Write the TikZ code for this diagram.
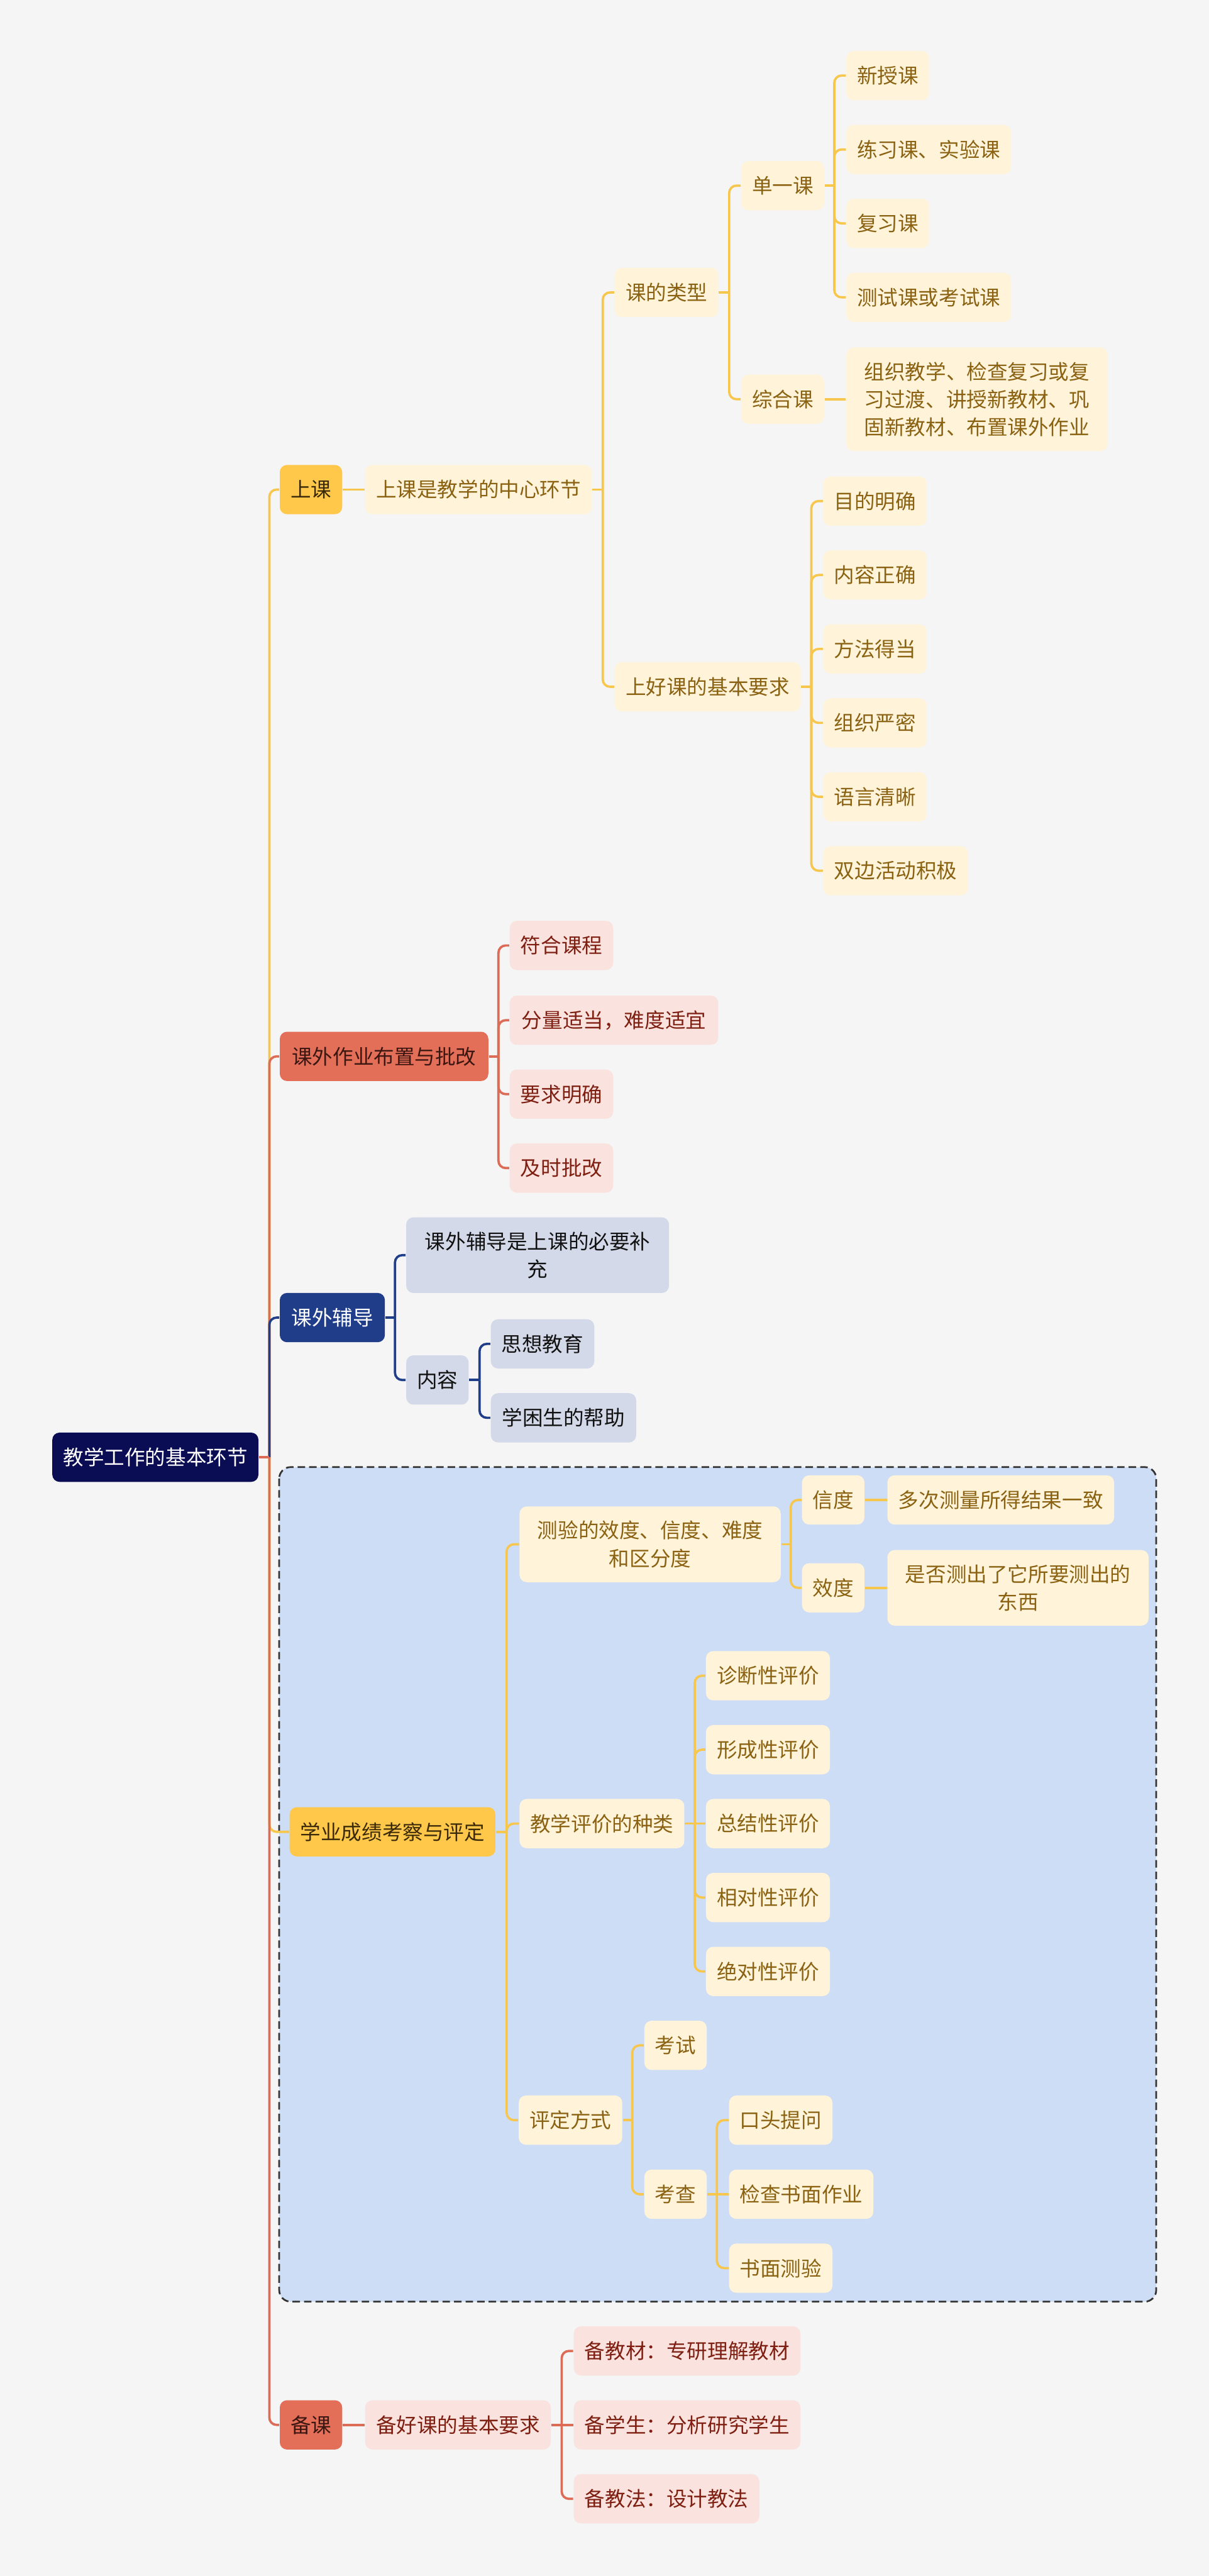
\documentclass[tikz,border=0pt]{standalone}
\usepackage{fontspec}
\setmainfont{Noto Sans CJK SC}
\definecolor{cBg}{HTML}{F5F5F5}
\definecolor{cRoot}{HTML}{0B0D54}
\definecolor{cYel}{HTML}{FFC84A}
\definecolor{cYelTxt}{HTML}{3A2A08}
\definecolor{cYelSub}{HTML}{FFF4DA}
\definecolor{cYelSubTxt}{HTML}{8A6212}
\definecolor{cYelLine}{HTML}{F7C64C}
\definecolor{cRed}{HTML}{E36F59}
\definecolor{cRedTxt}{HTML}{3C1711}
\definecolor{cRedSub}{HTML}{FAE3DE}
\definecolor{cRedSubTxt}{HTML}{7F1F12}
\definecolor{cRedLine}{HTML}{DD6C57}
\definecolor{cBlue}{HTML}{1F3D88}
\definecolor{cBlueSub}{HTML}{D3D9E9}
\definecolor{cBlueSubTxt}{HTML}{111111}
\definecolor{cBox}{HTML}{CEDDF6}
\definecolor{cBoxLine}{HTML}{333333}
\begin{document}
\begin{tikzpicture}[
    x=0.02cm, y=-0.02cm,
    base/.style={rounded corners=2.5pt,inner xsep=3.7pt,inner ysep=5pt,minimum height=0.6cm,
        align=center,anchor=west,font=\fontsize{7.1pt}{9.64pt}\selectfont},
    wd/.style={minimum width=#1*0.02cm},
    rootbox/.style={base,fill=cRoot,text=white},
    ymain/.style={base,fill=cYel,text=cYelTxt},
    ysub/.style={base,fill=cYelSub,text=cYelSubTxt},
    rmain/.style={base,fill=cRed,text=cRedTxt},
    rsub/.style={base,fill=cRedSub,text=cRedSubTxt},
    bmain/.style={base,fill=cBlue,text=white},
    bsub/.style={base,fill=cBlueSub,text=cBlueSubTxt},
    ylink/.style={draw=cYelLine,line width=0.8pt,rounded corners=2.5pt},
    rlink/.style={draw=cRedLine,line width=0.8pt,rounded corners=2.5pt},
    blink/.style={draw=cBlue,line width=0.8pt,rounded corners=2.5pt}
]
\fill[cBg] (0,0) rectangle (736,1568);
\useasboundingbox (0,0) rectangle (736,1568);
\draw[cBoxLine,fill=cBox,dash pattern=on 2.6pt off 1.4pt,line width=0.6pt,rounded corners=4pt]
    (170,893) rectangle (704,1401);

\node[rootbox,wd=125.5] (root) at (31.5,887) {教学工作的基本环节};

\node[ymain,wd=38] (shangke) at (170,298) {上课};
\node[ysub,wd=138] (zhongxin) at (222,298) {上课是教学的中心环节};
\node[ysub,wd=63] (leixing) at (374,178) {课的类型};
\node[ysub,wd=113] (yaoqiu) at (374,418) {上好课的基本要求};
\node[ysub,wd=50] (danyi) at (451,113) {单一课};
\node[ysub,wd=50] (zonghe) at (451,243) {综合课};
\node[ysub,wd=50] (xinshou) at (515,46) {新授课};
\node[ysub,wd=100] (lianxi) at (515,91) {练习课、实验课};
\node[ysub,wd=50] (fuxi) at (515,136) {复习课};
\node[ysub,wd=100] (ceshi) at (515,181) {测试课或考试课};
\node[ysub,wd=159] (zuzhijx) at (515,243) {组织教学、检查复习或复\\习过渡、讲授新教材、巩\\固新教材、布置课外作业};
\node[ysub,wd=62] (mudi) at (501,305) {目的明确};
\node[ysub,wd=62] (neirong) at (501,350) {内容正确};
\node[ysub,wd=62] (fangfa) at (501,395) {方法得当};
\node[ysub,wd=62] (zuzhi) at (501,440) {组织严密};
\node[ysub,wd=62] (yuyan) at (501,485) {语言清晰};
\node[ysub,wd=88] (shuangbian) at (501,530) {双边活动积极};

\node[rmain,wd=127] (zuoye) at (170,643) {课外作业布置与批改};
\node[rsub,wd=63] (fuhe) at (310,575.5) {符合课程};
\node[rsub,wd=127] (fenliang) at (310,621) {分量适当，难度适宜};
\node[rsub,wd=63] (mingque) at (310,666) {要求明确};
\node[rsub,wd=63] (jishi) at (310,711) {及时批改};

\node[bmain,wd=64] (fudao) at (170,802) {课外辅导};
\node[bsub,wd=160] (buchong) at (247,764) {课外辅导是上课的必要补\\充};
\node[bsub,wd=38] (neir) at (247,840) {内容};
\node[bsub,wd=63] (sixiang) at (298.5,818) {思想教育};
\node[bsub,wd=88.5] (xuekun) at (298.5,863) {学困生的帮助};

\node[ymain,wd=125] (xueye) at (176,1115) {学业成绩考察与评定};
\node[ysub,wd=159] (ceyan) at (316,940) {测验的效度、信度、难度\\和区分度};
\node[ysub,wd=38] (xindu) at (488,913) {信度};
\node[ysub,wd=138] (yizhi) at (540,913) {多次测量所得结果一致};
\node[ysub,wd=38] (xiaodu) at (488,966.5) {效度};
\node[ysub,wd=159] (cechu) at (540,966.5) {是否测出了它所要测出的\\东西};
\node[ysub,wd=100] (zhonglei) at (316,1110) {教学评价的种类};
\node[ysub,wd=75.5] (zhenduan) at (429.5,1020) {诊断性评价};
\node[ysub,wd=75.5] (xingcheng) at (429.5,1065) {形成性评价};
\node[ysub,wd=75.5] (zongjie) at (429.5,1110) {总结性评价};
\node[ysub,wd=75.5] (xiangdui) at (429.5,1155) {相对性评价};
\node[ysub,wd=75.5] (juedui) at (429.5,1200) {绝对性评价};
\node[ysub,wd=63] (pingding) at (315.5,1290.5) {评定方式};
\node[ysub,wd=37.5] (kaoshi) at (392,1245) {考试};
\node[ysub,wd=37.5] (kaocha) at (392,1335.6) {考查};
\node[ysub,wd=62.5] (koutou) at (443.6,1290.5) {口头提问};
\node[ysub,wd=87.5] (jiancha) at (443.6,1335.6) {检查书面作业};
\node[ysub,wd=62.5] (shumian) at (443.6,1380.6) {书面测验};

\node[rmain,wd=38] (beike) at (170,1476) {备课};
\node[rsub,wd=113] (beihao) at (222,1476) {备好课的基本要求};
\node[rsub,wd=138] (jiaocai) at (349,1431) {备教材：专研理解教材};
\node[rsub,wd=138] (xuesheng) at (349,1476) {备学生：分析研究学生};
\node[rsub,wd=113] (jiaofa) at (349,1521) {备教法：设计教法};

\coordinate (t0) at (164,887);
\coordinate (t1) at (367,298);
\coordinate (t2) at (444,178);
\coordinate (t3) at (508,113);
\coordinate (t4) at (494,418);
\coordinate (t5) at (303.5,643);
\coordinate (t6) at (240.5,802);
\coordinate (t7) at (292,840);
\coordinate (t8) at (308.5,1115);
\coordinate (t9) at (481.5,940);
\coordinate (t10) at (423,1110);
\coordinate (t11) at (385,1290.5);
\coordinate (t12) at (436.5,1335.6);
\coordinate (t13) at (342,1476);

\draw[ylink] (t0) |- (shangke.west);
\draw[rlink] (t0) |- (zuoye.west);
\draw[blink] (t0) |- (fudao.west);
\draw[ylink] (t0) |- (xueye.west);
\draw[rlink] (t0) |- (beike.west);
\draw[rlink] (root.east) -- (t0);

\draw[ylink] (shangke.east) -- (zhongxin.west);
\draw[ylink] (zhongxin.east) -- (t1);
\draw[ylink] (t1) |- (leixing.west);
\draw[ylink] (t1) |- (yaoqiu.west);
\draw[ylink] (leixing.east) -- (t2);
\draw[ylink] (t2) |- (danyi.west);
\draw[ylink] (t2) |- (zonghe.west);
\draw[ylink] (danyi.east) -- (t3);
\foreach \k in {xinshou,lianxi,fuxi,ceshi}
    \draw[ylink] (t3) |- (\k.west);
\draw[ylink] (zonghe.east) -- (zuzhijx.west);
\draw[ylink] (yaoqiu.east) -- (t4);
\foreach \k in {mudi,neirong,fangfa,zuzhi,yuyan,shuangbian}
    \draw[ylink] (t4) |- (\k.west);

\draw[rlink] (zuoye.east) -- (t5);
\foreach \k in {fuhe,fenliang,mingque,jishi}
    \draw[rlink] (t5) |- (\k.west);

\draw[blink] (fudao.east) -- (t6);
\draw[blink] (t6) |- (buchong.west);
\draw[blink] (t6) |- (neir.west);
\draw[blink] (neir.east) -- (t7);
\draw[blink] (t7) |- (sixiang.west);
\draw[blink] (t7) |- (xuekun.west);

\draw[ylink] (xueye.east) -- (t8);
\draw[ylink] (t8) |- (ceyan.west);
\draw[ylink] (t8) |- (zhonglei.west);
\draw[ylink] (t8) |- (pingding.west);
\draw[ylink] (ceyan.east) -- (t9);
\draw[ylink] (t9) |- (xindu.west);
\draw[ylink] (t9) |- (xiaodu.west);
\draw[ylink] (xindu.east) -- (yizhi.west);
\draw[ylink] (xiaodu.east) -- (cechu.west);
\draw[ylink] (zhonglei.east) -- (t10);
\foreach \k in {zhenduan,xingcheng,xiangdui,juedui}
    \draw[ylink] (t10) |- (\k.west);
\draw[ylink] (t10) -- (zongjie.west);
\draw[ylink] (pingding.east) -- (t11);
\draw[ylink] (t11) |- (kaoshi.west);
\draw[ylink] (t11) |- (kaocha.west);
\draw[ylink] (kaocha.east) -- (t12);
\draw[ylink] (t12) |- (koutou.west);
\draw[ylink] (t12) -- (jiancha.west);
\draw[ylink] (t12) |- (shumian.west);

\draw[rlink] (beike.east) -- (beihao.west);
\draw[rlink] (beihao.east) -- (t13);
\draw[rlink] (t13) |- (jiaocai.west);
\draw[rlink] (t13) -- (xuesheng.west);
\draw[rlink] (t13) |- (jiaofa.west);
\end{tikzpicture}
\end{document}
